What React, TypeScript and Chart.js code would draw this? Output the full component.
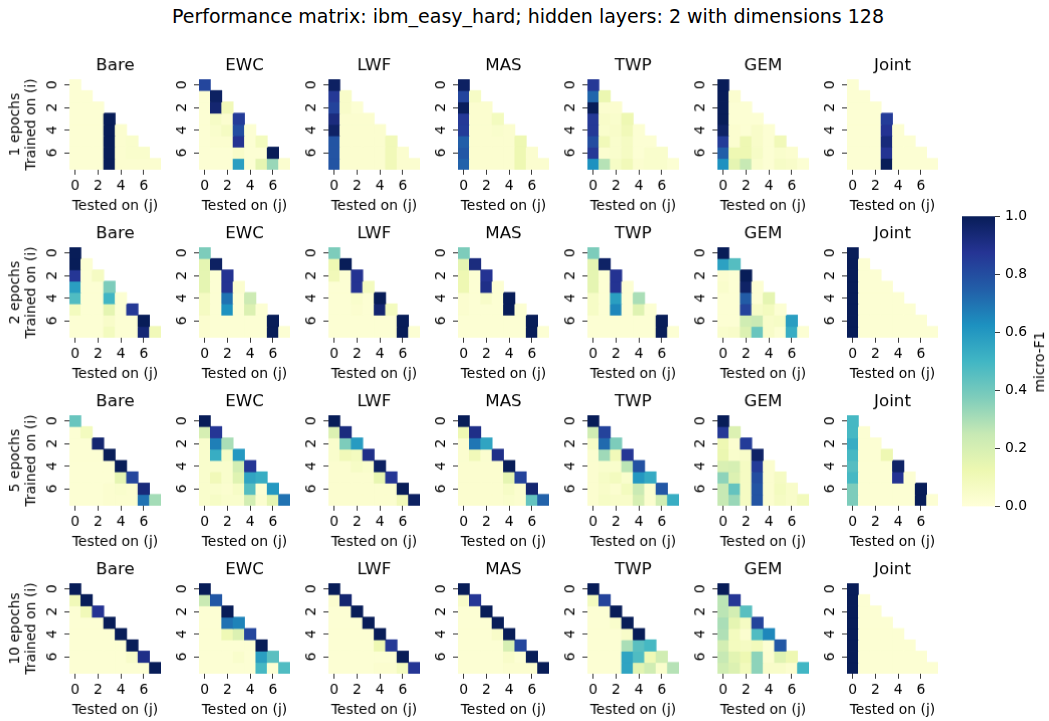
import React, { useEffect, useRef } from "react";
import { Chart, registerables } from "chart.js";

Chart.register(...registerables);

// ---------------- data ----------------
const SUPTITLE = "Performance matrix: ibm_easy_hard; hidden layers: 2 with dimensions 128";
const METHODS = ["Bare", "EWC", "LWF", "MAS", "TWP", "GEM", "Joint"];
const EPOCHS = [1, 2, 5, 10];
const TASKS = ["0", "1", "2", "3", "4", "5", "6", "7"];
const TICK_TASKS = [0, 2, 4, 6];
const X_LABEL = "Tested on (j)";
const Y_LABEL = "Trained on (i)";
const CB_LABEL = "micro-F1";
const CB_MIN = 0;
const CB_MAX = 1;
const CB_STEP = 0.2;
const YLGNBU = ["#ffffd9", "#edf8b1", "#c7e9b4", "#7fcdbb", "#41b6c4", "#1d91c0", "#225ea8", "#253494", "#081d58"];

// 1 epoch
const BARE_1 = [
  [0.02],
  [0.02, 0.02],
  [0.02, 0.02, 0.02],
  [0.02, 0.02, 0.02, 1.0],
  [0.02, 0.02, 0.02, 1.0, 0.03],
  [0.02, 0.02, 0.02, 1.0, 0.03, 0.04],
  [0.02, 0.02, 0.02, 1.0, 0.03, 0.04, 0.04],
  [0.02, 0.02, 0.02, 1.0, 0.03, 0.03, 0.03, 0.03],
];
const EWC_1 = [
  [0.82],
  [0.02, 0.98],
  [0.02, 0.95, 0.1],
  [0.02, 0.06, 0.03, 0.85],
  [0.02, 0.04, 0.07, 0.8, 0.02],
  [0.02, 0.03, 0.03, 0.88, 0.02, 0.08],
  [0.02, 0.02, 0.02, 0.05, 0.02, 0.02, 1.0],
  [0.02, 0.02, 0.02, 0.58, 0.02, 0.15, 0.33, 0.03],
];
const LWF_1 = [
  [0.98],
  [0.86, 0.05],
  [0.83, 0.05, 0.02],
  [0.92, 0.03, 0.03, 0.03],
  [0.97, 0.03, 0.03, 0.03, 0.03],
  [0.78, 0.03, 0.03, 0.03, 0.03, 0.1],
  [0.78, 0.03, 0.03, 0.03, 0.03, 0.1, 0.03],
  [0.78, 0.03, 0.03, 0.03, 0.03, 0.1, 0.03, 0.03],
];
const MAS_1 = [
  [0.98],
  [0.82, 0.06],
  [0.99, 0.03, 0.03],
  [0.86, 0.03, 0.03, 0.08],
  [0.85, 0.03, 0.03, 0.04, 0.03],
  [0.75, 0.03, 0.03, 0.03, 0.03, 0.12],
  [0.77, 0.03, 0.03, 0.03, 0.03, 0.12, 0.03],
  [0.74, 0.03, 0.03, 0.03, 0.03, 0.12, 0.03, 0.03],
];
const TWP_1 = [
  [0.86],
  [0.73, 0.13],
  [1.0, 0.03, 0.03],
  [0.86, 0.05, 0.04, 0.12],
  [0.86, 0.04, 0.05, 0.1, 0.02],
  [0.8, 0.1, 0.04, 0.07, 0.02, 0.02],
  [0.86, 0.03, 0.04, 0.07, 0.02, 0.04, 0.04],
  [0.62, 0.28, 0.06, 0.1, 0.03, 0.04, 0.04, 0.02],
];
const GEM_1 = [
  [1.0],
  [1.0, 0.03],
  [1.0, 0.02, 0.02],
  [1.0, 0.02, 0.02, 0.02],
  [0.97, 0.03, 0.02, 0.05, 0.02],
  [0.85, 0.03, 0.12, 0.05, 0.02, 0.1],
  [0.75, 0.12, 0.12, 0.06, 0.02, 0.04, 0.03],
  [0.62, 0.15, 0.25, 0.04, 0.02, 0.06, 0.05, 0.02],
];
const JOINT_1 = [
  [0.02],
  [0.02, 0.02],
  [0.02, 0.02, 0.02],
  [0.02, 0.02, 0.02, 0.85],
  [0.02, 0.02, 0.02, 0.88, 0.02],
  [0.02, 0.02, 0.02, 0.93, 0.02, 0.02],
  [0.02, 0.02, 0.02, 0.88, 0.02, 0.02, 0.02],
  [0.02, 0.02, 0.02, 1.0, 0.02, 0.02, 0.02, 0.02],
];

// 2 epochs
const BARE_2 = [
  [1.0],
  [1.0, 0.02],
  [0.87, 0.02, 0.07],
  [0.58, 0.02, 0.02, 0.38],
  [0.47, 0.02, 0.02, 0.5, 0.02],
  [0.08, 0.02, 0.02, 0.15, 0.02, 0.86],
  [0.02, 0.02, 0.02, 0.05, 0.02, 0.02, 1.0],
  [0.02, 0.02, 0.02, 0.08, 0.02, 0.02, 0.94, 0.1],
];
const EWC_2 = [
  [0.38],
  [0.15, 0.98],
  [0.15, 0.02, 0.88],
  [0.15, 0.02, 0.88, 0.03],
  [0.07, 0.02, 0.7, 0.02, 0.23],
  [0.07, 0.02, 0.62, 0.02, 0.18, 0.02],
  [0.03, 0.02, 0.02, 0.02, 0.02, 0.02, 1.0],
  [0.03, 0.02, 0.02, 0.02, 0.02, 0.02, 1.0, 0.02],
];
const LWF_2 = [
  [0.38],
  [0.12, 1.0],
  [0.1, 0.02, 0.88],
  [0.02, 0.02, 0.88, 0.08],
  [0.02, 0.02, 0.04, 0.02, 1.0],
  [0.02, 0.02, 0.03, 0.02, 0.95, 0.08],
  [0.02, 0.02, 0.02, 0.02, 0.02, 0.02, 1.0],
  [0.02, 0.02, 0.02, 0.02, 0.02, 0.02, 1.0, 0.02],
];
const MAS_2 = [
  [0.38],
  [0.15, 0.92],
  [0.12, 0.02, 0.88],
  [0.12, 0.02, 0.9, 0.02],
  [0.03, 0.02, 0.05, 0.02, 1.0],
  [0.03, 0.02, 0.02, 0.02, 1.0, 0.02],
  [0.02, 0.02, 0.02, 0.02, 0.02, 0.02, 1.0],
  [0.02, 0.02, 0.02, 0.02, 0.02, 0.02, 1.0, 0.02],
];
const TWP_2 = [
  [0.38],
  [0.15, 0.97],
  [0.15, 0.02, 0.88],
  [0.15, 0.02, 0.88, 0.02],
  [0.06, 0.02, 0.58, 0.02, 0.3],
  [0.06, 0.02, 0.65, 0.02, 0.17, 0.02],
  [0.02, 0.02, 0.02, 0.02, 0.02, 0.02, 1.0],
  [0.02, 0.02, 0.02, 0.02, 0.02, 0.02, 1.0, 0.02],
];
const GEM_2 = [
  [1.0],
  [0.57, 0.46],
  [0.03, 0.02, 1.0],
  [0.04, 0.02, 0.97, 0.02],
  [0.02, 0.02, 0.76, 0.02, 0.15],
  [0.02, 0.02, 0.83, 0.06, 0.08, 0.02],
  [0.02, 0.02, 0.22, 0.24, 0.05, 0.06, 0.58],
  [0.04, 0.05, 0.18, 0.42, 0.05, 0.02, 0.53, 0.02],
];
const JOINT_2 = [
  [1.0],
  [1.0, 0.02],
  [1.0, 0.02, 0.02],
  [1.0, 0.02, 0.02, 0.02],
  [1.0, 0.02, 0.02, 0.02, 0.02],
  [1.0, 0.02, 0.02, 0.02, 0.02, 0.02],
  [1.0, 0.02, 0.02, 0.02, 0.02, 0.02, 0.02],
  [1.0, 0.02, 0.02, 0.02, 0.02, 0.02, 0.02, 0.02],
];

// 5 epochs
const BARE_5 = [
  [0.42],
  [0.02, 0.08],
  [0.02, 0.02, 0.95],
  [0.02, 0.02, 0.02, 1.0],
  [0.02, 0.02, 0.02, 0.02, 1.0],
  [0.02, 0.02, 0.02, 0.02, 0.15, 0.82],
  [0.02, 0.02, 0.02, 0.03, 0.04, 0.03, 0.93],
  [0.02, 0.02, 0.02, 0.03, 0.03, 0.03, 0.7, 0.31],
];
const EWC_5 = [
  [1.0],
  [0.2, 0.87],
  [0.04, 0.67, 0.3],
  [0.04, 0.53, 0.06, 0.6],
  [0.04, 0.04, 0.04, 0.21, 0.87],
  [0.04, 0.1, 0.04, 0.17, 0.56, 0.53],
  [0.04, 0.04, 0.03, 0.06, 0.46, 0.02, 0.6],
  [0.04, 0.06, 0.04, 0.04, 0.21, 0.03, 0.15, 0.7],
];
const LWF_5 = [
  [1.0],
  [0.18, 0.92],
  [0.04, 0.38, 0.59],
  [0.04, 0.1, 0.08, 0.9],
  [0.03, 0.03, 0.06, 0.04, 0.98],
  [0.03, 0.03, 0.03, 0.03, 0.14, 0.87],
  [0.03, 0.03, 0.03, 0.03, 0.03, 0.03, 1.0],
  [0.03, 0.03, 0.03, 0.03, 0.03, 0.03, 0.1, 0.98],
];
const MAS_5 = [
  [1.0],
  [0.12, 0.9],
  [0.03, 0.69, 0.56],
  [0.03, 0.1, 0.03, 0.9],
  [0.03, 0.03, 0.03, 0.03, 1.0],
  [0.03, 0.03, 0.03, 0.03, 0.15, 0.83],
  [0.03, 0.03, 0.03, 0.03, 0.06, 0.03, 0.95],
  [0.03, 0.03, 0.03, 0.03, 0.04, 0.03, 0.43, 0.74],
];
const TWP_5 = [
  [1.0],
  [0.22, 0.83],
  [0.06, 0.72, 0.38],
  [0.03, 0.32, 0.1, 0.87],
  [0.03, 0.04, 0.04, 0.27, 0.79],
  [0.03, 0.06, 0.08, 0.04, 0.6, 0.54],
  [0.03, 0.05, 0.03, 0.08, 0.24, 0.03, 0.77],
  [0.03, 0.06, 0.05, 0.05, 0.2, 0.03, 0.22, 0.53],
];
const GEM_5 = [
  [1.0],
  [0.86, 0.18],
  [0.12, 0.03, 0.85],
  [0.13, 0.04, 0.05, 0.97],
  [0.19, 0.2, 0.07, 0.85, 0.03],
  [0.35, 0.18, 0.07, 0.8, 0.03, 0.07],
  [0.25, 0.43, 0.07, 0.78, 0.03, 0.08, 0.05],
  [0.25, 0.33, 0.07, 0.78, 0.03, 0.07, 0.05, 0.09],
];
const JOINT_5 = [
  [0.49],
  [0.49, 0.02],
  [0.53, 0.02, 0.02],
  [0.49, 0.02, 0.02, 0.12],
  [0.46, 0.02, 0.02, 0.02, 0.97],
  [0.49, 0.02, 0.02, 0.02, 0.88, 0.02],
  [0.38, 0.02, 0.02, 0.02, 0.02, 0.02, 1.0],
  [0.38, 0.02, 0.02, 0.02, 0.02, 0.02, 1.0, 0.02],
];

// 10 epochs
const BARE_10 = [
  [1.0],
  [0.1, 1.0],
  [0.02, 0.1, 0.88],
  [0.02, 0.02, 0.02, 1.0],
  [0.02, 0.02, 0.02, 0.02, 1.0],
  [0.02, 0.02, 0.02, 0.02, 0.02, 1.0],
  [0.02, 0.02, 0.02, 0.02, 0.02, 0.05, 0.9],
  [0.02, 0.02, 0.02, 0.02, 0.02, 0.02, 0.02, 1.0],
];
const EWC_10 = [
  [1.0],
  [0.24, 0.77],
  [0.02, 0.02, 1.0],
  [0.02, 0.02, 0.7, 0.66],
  [0.02, 0.02, 0.11, 0.18, 0.82],
  [0.02, 0.02, 0.02, 0.02, 0.02, 1.0],
  [0.02, 0.02, 0.02, 0.04, 0.02, 0.58, 0.45],
  [0.02, 0.02, 0.02, 0.02, 0.02, 0.49, 0.02, 0.47],
];
const LWF_10 = [
  [1.0],
  [0.03, 0.95],
  [0.02, 0.02, 1.0],
  [0.02, 0.02, 0.02, 1.0],
  [0.02, 0.02, 0.02, 0.02, 1.0],
  [0.02, 0.02, 0.02, 0.02, 0.12, 0.86],
  [0.02, 0.02, 0.02, 0.02, 0.02, 0.02, 1.0],
  [0.02, 0.02, 0.02, 0.02, 0.03, 0.03, 0.08, 0.87],
];
const MAS_10 = [
  [1.0],
  [0.05, 0.87],
  [0.02, 0.02, 1.0],
  [0.02, 0.02, 0.02, 1.0],
  [0.02, 0.02, 0.02, 0.05, 1.0],
  [0.02, 0.02, 0.02, 0.02, 0.2, 0.82],
  [0.02, 0.02, 0.02, 0.02, 0.05, 0.02, 1.0],
  [0.02, 0.02, 0.02, 0.02, 0.03, 0.03, 0.03, 1.0],
];
const TWP_10 = [
  [1.0],
  [0.08, 0.83],
  [0.02, 0.02, 1.0],
  [0.02, 0.02, 0.04, 1.0],
  [0.02, 0.02, 0.02, 0.05, 1.0],
  [0.02, 0.02, 0.02, 0.3, 0.45, 0.49],
  [0.02, 0.02, 0.02, 0.56, 0.47, 0.11, 0.22],
  [0.02, 0.02, 0.02, 0.56, 0.16, 0.22, 0.04, 0.28],
];
const GEM_10 = [
  [1.0],
  [0.27, 0.87],
  [0.27, 0.21, 0.45],
  [0.3, 0.15, 0.07, 0.83],
  [0.29, 0.08, 0.03, 0.47, 0.65],
  [0.21, 0.08, 0.07, 0.09, 0.02, 0.77],
  [0.25, 0.16, 0.12, 0.35, 0.03, 0.17, 0.12],
  [0.22, 0.18, 0.09, 0.35, 0.05, 0.05, 0.03, 0.5],
];
const JOINT_10 = [
  [1.0],
  [1.0, 0.02],
  [1.0, 0.02, 0.02],
  [1.0, 0.02, 0.02, 0.02],
  [1.0, 0.02, 0.02, 0.02, 0.02],
  [1.0, 0.02, 0.02, 0.02, 0.02, 0.02],
  [1.0, 0.02, 0.02, 0.02, 0.02, 0.02, 0.02],
  [1.0, 0.02, 0.02, 0.02, 0.02, 0.02, 0.02, 0.02],
];

const MATRICES = [
  [BARE_1, EWC_1, LWF_1, MAS_1, TWP_1, GEM_1, JOINT_1],
  [BARE_2, EWC_2, LWF_2, MAS_2, TWP_2, GEM_2, JOINT_2],
  [BARE_5, EWC_5, LWF_5, MAS_5, TWP_5, GEM_5, JOINT_5],
  [BARE_10, EWC_10, LWF_10, MAS_10, TWP_10, GEM_10, JOINT_10],
];

// ---------------- style / layout ----------------
const FONT = "DejaVu Sans";
const TICK_SIZE = 13.9;
const TITLE_SIZE = 16.7;
const SUP_SIZE = 19;

const PX0 = 69; // left of first heatmap
const PDX = 129.6; // column pitch
const PY0 = 79; // top of first heatmap
const PDY = 168; // row pitch
const PW = 91.5; // heatmap width
const PH = 90.5; // heatmap height
const LW = 69; // room left of heatmap
const TH = 40; // room above heatmap
const BH = 52; // room below heatmap
const RW = 10; // room right of heatmap

function hexToRgb(h: string) {
  const n = parseInt(h.slice(1), 16);
  return [(n >> 16) & 255, (n >> 8) & 255, n & 255];
}
const CMAP_RGB = YLGNBU.map(hexToRgb);

function cmap(v: number) {
  const t = Math.max(0, Math.min(1, v)) * (CMAP_RGB.length - 1);
  const k = Math.min(CMAP_RGB.length - 2, Math.floor(t));
  const f = t - k;
  const a = CMAP_RGB[k];
  const b = CMAP_RGB[k + 1];
  const c = a.map((x, i) => Math.round(x + (b[i] - x) * f));
  return `rgb(${c[0]},${c[1]},${c[2]})`;
}

const tickFont = { family: FONT, size: TICK_SIZE, weight: "normal" as const, lineHeight: 1.2 };

function Panel({ r, c }: { r: number; c: number }) {
  const ref = useRef<HTMLCanvasElement | null>(null);
  const width = LW + PW + RW;
  const height = TH + PH + BH;
  const left = PX0 + c * PDX - LW;
  const top = PY0 + r * PDY - TH;

  useEffect(() => {
    const m = MATRICES[r][c];
    const datasets = m.map((row, i) => ({
      label: `row ${i}`,
      data: TASKS.map((_, j) => (j <= i ? [i, i + 1] : null)),
      backgroundColor: (ctx: any) => cmap(row[ctx.dataIndex] ?? 0),
      borderWidth: 0,
      grouped: false,
      barPercentage: 1,
      categoryPercentage: 1,
      inflateAmount: 0.4,
    }));
    const chart = new Chart(ref.current as HTMLCanvasElement, {
      type: "bar",
      data: { labels: TASKS, datasets: datasets as any },
      options: {
        animation: false,
        responsive: false,
        maintainAspectRatio: false,
        events: [],
        layout: { padding: { left: 0, right: RW, top: 0, bottom: 0 } },
        plugins: {
          legend: { display: false },
          tooltip: { enabled: false },
          title: {
            display: true,
            text: METHODS[c],
            fullSize: false,
            color: "#000",
            font: { family: FONT, size: TITLE_SIZE, weight: "normal", lineHeight: 1 },
            padding: { top: TH - 21.5, bottom: 4.8 },
          },
        },
        scales: {
          x: {
            type: "category",
            offset: true,
            afterBuildTicks: (s: any) => {
              s.ticks = TICK_TASKS.map((v) => ({ value: v }));
            },
            afterFit: (s: any) => {
              s.height = BH;
            },
            ticks: {
              autoSkip: false,
              maxRotation: 0,
              minRotation: 0,
              color: "#000",
              font: tickFont,
              padding: 3,
            },
            grid: { offset: false, drawOnChartArea: false, drawTicks: true, tickLength: 5, color: "#222", lineWidth: 0.9 },
            border: { display: false },
            title: {
              display: true,
              text: X_LABEL,
              color: "#000",
              font: tickFont,
              padding: { top: 0, bottom: BH - 44.7 },
            },
          },
          y: {
            type: "linear",
            min: 0,
            max: TASKS.length,
            reverse: true,
            afterBuildTicks: (s: any) => {
              s.ticks = TICK_TASKS.map((v) => ({ value: v + 0.5 }));
            },
            afterFit: (s: any) => {
              s.width = LW;
            },
            ticks: {
              autoSkip: false,
              minRotation: 90,
              maxRotation: 90,
              crossAlign: "center",
              color: "#000",
              font: tickFont,
              padding: 7.6,
              callback: (v: any) => String(Math.round(Number(v) - 0.5)),
            },
            grid: { drawOnChartArea: false, drawTicks: true, tickLength: 5, color: "#222", lineWidth: 0.9 },
            border: { display: false },
            title: {
              display: c === 0,
              text: [`${EPOCHS[r]} epochs`, Y_LABEL],
              color: "#000",
              font: tickFont,
              padding: { top: 6.7, bottom: 0 },
            },
          },
        },
      } as any,
    });
    return () => chart.destroy();
  }, [r, c]);

  return (
    <canvas
      ref={ref}
      width={width}
      height={height}
      style={{ position: "absolute", left, top, width, height }}
    />
  );
}

const CB_LEFT = 962;
const CB_TOP = 213;
const CB_W = 33;
const CB_H = 297;
const CB_AXIS_W = 50;

function ColorBar() {
  const ref = useRef<HTMLCanvasElement | null>(null);
  const width = CB_W + CB_AXIS_W;
  const height = CB_H + 20;
  useEffect(() => {
    const chart = new Chart(ref.current as HTMLCanvasElement, {
      type: "bar",
      data: {
        labels: [CB_LABEL],
        datasets: [
          {
            data: [[CB_MIN, CB_MAX]],
            backgroundColor: (ctx: any) => {
              const a = ctx.chart.chartArea;
              if (!a) return YLGNBU[0];
              const g = ctx.chart.ctx.createLinearGradient(0, a.bottom, 0, a.top);
              YLGNBU.forEach((col, i) => g.addColorStop(i / (YLGNBU.length - 1), col));
              return g;
            },
            borderWidth: 0,
            barPercentage: 1,
            categoryPercentage: 1,
          },
        ] as any,
      },
      options: {
        animation: false,
        responsive: false,
        maintainAspectRatio: false,
        events: [],
        layout: { padding: { left: 0, right: 0, top: 10, bottom: 10 } },
        plugins: { legend: { display: false }, tooltip: { enabled: false } },
        scales: {
          x: { display: false },
          y: {
            position: "right",
            min: CB_MIN,
            max: CB_MAX,
            afterFit: (s: any) => {
              s.width = CB_AXIS_W;
            },
            ticks: {
              stepSize: CB_STEP,
              color: "#000",
              font: tickFont,
              padding: 5,
              callback: (v: any) => Number(v).toFixed(1),
            },
            grid: { drawOnChartArea: false, drawTicks: true, tickLength: 5, color: "#222", lineWidth: 0.9 },
            border: { display: false },
          },
        },
      } as any,
    });
    return () => chart.destroy();
  }, []);
  return (
    <canvas
      ref={ref}
      width={width}
      height={height}
      style={{ position: "absolute", left: CB_LEFT, top: CB_TOP - 10, width, height }}
    />
  );
}

export default function App() {
  const cells: React.ReactNode[] = [];
  EPOCHS.forEach((_, r) => {
    METHODS.forEach((__, c) => {
      cells.push(<Panel key={`${r}-${c}`} r={r} c={c} />);
    });
  });
  return (
    <div
      style={{
        position: "absolute",
        left: 0,
        top: 0,
        width: 1049,
        height: 721,
        background: "#fff",
        overflow: "hidden",
        fontFamily: FONT,
      }}
    >
      <div
        style={{
          position: "absolute",
          left: 0,
          top: 6.5,
          width: 1056,
          textAlign: "center",
          fontSize: SUP_SIZE,
          lineHeight: 1,
          whiteSpace: "nowrap",
          color: "#000",
        }}
      >
        {SUPTITLE}
      </div>
      {cells}
      <ColorBar />
      <div
        style={{
          position: "absolute",
          left: 1040,
          top: 362,
          transform: "translate(-50%, -50%) rotate(-90deg)",
          fontSize: TICK_SIZE,
          lineHeight: 1,
          whiteSpace: "nowrap",
          color: "#000",
        }}
      >
        {CB_LABEL}
      </div>
    </div>
  );
}
